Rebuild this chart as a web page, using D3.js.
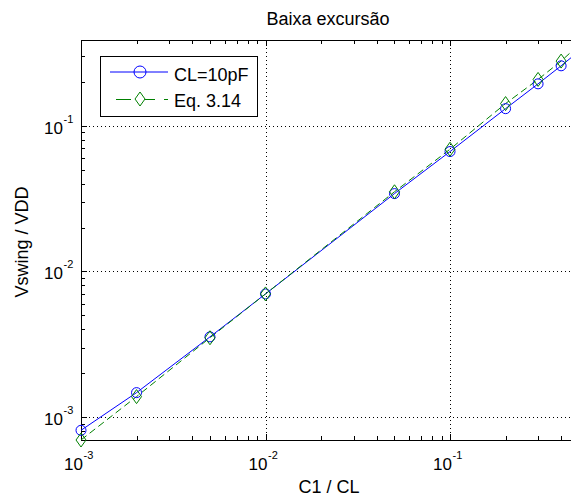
<!DOCTYPE html>
<html>
<head>
<meta charset="utf-8">
<title>Baixa excursão</title>
<script src="https://cdn.jsdelivr.net/npm/d3@7"></script>
<style>
  body { margin: 0; background: #fff; }
  text { font-family: "Liberation Sans", Arial, sans-serif; fill: #000; }
</style>
</head>
<body>
<script>
// dados
var ratio = [0.001, 0.002, 0.005, 0.01, 0.05, 0.1, 0.2, 0.3, 0.4, 0.5];
var swingCL10 = [8.1e-4, 1.47e-3, 3.55e-3, 7.0e-3, 0.0342, 0.0665, 0.131, 0.194, 0.258, 0.325];
var swingEq314 = [6.95e-4, 1.38e-3, 3.5e-3, 7.0e-3, 0.0352, 0.069, 0.142, 0.208, 0.278, 0.36];
var seriesNames = ["CL=10pF", "Eq. 3.14"];
var xTickExp = [-3, -2, -1];
var yTickExp = [-3, -2, -1];

var width = 571, height = 498;
var pL = 81, pT = 40, pR = 579, pB = 440;

var svg = d3.select("body").append("svg").attr("width", width).attr("height", height);

var x = d3.scaleLog().domain([1e-3, 0.5]).range([pL, pR]);
var y = d3.scaleLog().domain([6.95e-4, 0.388]).range([pB, pT]);

// grade pontilhada nas décadas
svg.selectAll(".gx").data(xTickExp).enter().append("line")
    .attr("x1", function (d) { return Math.round(x(Math.pow(10, d))) + 0.5; })
    .attr("x2", function (d) { return Math.round(x(Math.pow(10, d))) + 0.5; })
    .attr("y1", pT).attr("y2", pB)
    .attr("stroke", "#000").attr("stroke-dasharray", "1,3");
svg.selectAll(".gy").data(yTickExp).enter().append("line")
    .attr("y1", function (d) { return Math.round(y(Math.pow(10, d))) + 0.5; })
    .attr("y2", function (d) { return Math.round(y(Math.pow(10, d))) + 0.5; })
    .attr("x1", pL).attr("x2", pR)
    .attr("stroke", "#000").attr("stroke-dasharray", "1,3");

// ticks para dentro (principais e secundários)
function isMajor(v) { return Math.abs(Math.log10(v) - Math.round(Math.log10(v))) < 1e-6; }
var xt = x.ticks().filter(function (v) { return v >= 1e-3 && v <= 0.5; });
var yt = y.ticks().filter(function (v) { return v >= 6.95e-4 && v <= 0.388; });
var tk = svg.append("g").attr("stroke", "#000");
xt.forEach(function (v) {
    var px = Math.round(x(v)) + 0.5, len = isMajor(v) ? 6 : 4;
    tk.append("line").attr("x1", px).attr("x2", px).attr("y1", pB).attr("y2", pB - len);
    tk.append("line").attr("x1", px).attr("x2", px).attr("y1", pT).attr("y2", pT + len);
});
yt.forEach(function (v) {
    var py = Math.round(y(v)) + 0.5, len = isMajor(v) ? 6 : 4;
    tk.append("line").attr("y1", py).attr("y2", py).attr("x1", pL).attr("x2", pL + len);
    tk.append("line").attr("y1", py).attr("y2", py).attr("x1", pR).attr("x2", pR - len);
});

// caixa dos eixos
svg.append("rect").attr("x", pL + 0.5).attr("y", pT + 0.5)
    .attr("width", pR - pL).attr("height", pB - pT)
    .attr("fill", "none").attr("stroke", "#000");

// rótulos 10^n
var xl = svg.selectAll(".xl").data(xTickExp).enter().append("g");
xl.append("text").attr("x", function (d) { return x(Math.pow(10, d)) + 2; })
    .attr("y", 470).attr("font-size", 17).attr("text-anchor", "end").text("10");
xl.append("text").attr("x", function (d) { return x(Math.pow(10, d)) + 2.5; })
    .attr("y", 459).attr("font-size", 11).text(function (d) { return "-" + Math.abs(d); });
var yl = svg.selectAll(".yl").data(yTickExp).enter().append("g");
yl.append("text").attr("x", 63).attr("y", function (d) { return y(Math.pow(10, d)) + 8; })
    .attr("font-size", 17).attr("text-anchor", "end").text("10");
yl.append("text").attr("x", 63.5).attr("y", function (d) { return y(Math.pow(10, d)) - 3; })
    .attr("font-size", 11).text(function (d) { return "-" + Math.abs(d); });

// séries
var pts = ratio.map(function (r, i) { return { r: r, a: swingCL10[i], b: swingEq314[i] }; });
var diamond = "M0,-7L5,0L0,7L-5,0Z";
var plot = svg.append("g");
plot.append("path").datum(pts).attr("fill", "none").attr("stroke", "#0000ff")
    .attr("d", d3.line().x(function (d) { return x(d.r); }).y(function (d) { return y(d.a); }));
plot.append("path").datum(pts).attr("fill", "none").attr("stroke", "#008000")
    .attr("stroke-dasharray", "7,4")
    .attr("d", d3.line().x(function (d) { return x(d.r); }).y(function (d) { return y(d.b); }));
plot.selectAll(".c").data(pts).enter().append("circle")
    .attr("cx", function (d) { return x(d.r); }).attr("cy", function (d) { return y(d.a); })
    .attr("r", 5).attr("fill", "none").attr("stroke", "#0000ff");
plot.selectAll(".d").data(pts).enter().append("path")
    .attr("transform", function (d) { return "translate(" + x(d.r) + "," + y(d.b) + ")"; })
    .attr("d", diamond).attr("fill", "none").attr("stroke", "#008000");

// legenda
var lg = svg.append("g");
lg.append("rect").attr("x", 100.5).attr("y", 56.5).attr("width", 157).attr("height", 60)
    .attr("fill", "#fff").attr("stroke", "#000");
lg.append("line").attr("x1", 110).attr("x2", 168).attr("y1", 72).attr("y2", 72).attr("stroke", "#0000ff");
lg.append("circle").attr("cx", 140).attr("cy", 72).attr("r", 6).attr("fill", "none").attr("stroke", "#0000ff");
lg.append("line").attr("x1", 116).attr("x2", 168).attr("y1", 99.5).attr("y2", 99.5)
    .attr("stroke", "#008000").attr("stroke-dasharray", "15,9");
lg.append("path").attr("transform", "translate(140,99)").attr("d", diamond)
    .attr("fill", "#fff").attr("stroke", "#008000");
lg.selectAll("text").data(seriesNames).enter().append("text")
    .attr("x", 174).attr("y", function (d, i) { return 81 + i * 26; })
    .attr("font-size", 18).text(function (d) { return d; });

// títulos
svg.append("text").attr("x", 328).attr("y", 25).attr("text-anchor", "middle")
    .attr("font-size", 18).text("Baixa excursão");
svg.append("text").attr("x", 329).attr("y", 493).attr("text-anchor", "middle")
    .attr("font-size", 18).text("C1 / CL");
svg.append("text").attr("transform", "translate(28,242) rotate(-90)").attr("text-anchor", "middle")
    .attr("font-size", 18).text("Vswing / VDD");
</script>
</body>
</html>
